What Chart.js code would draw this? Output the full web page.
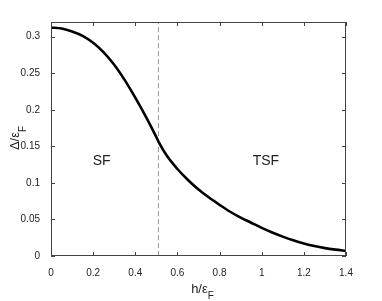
<!DOCTYPE html>
<html>
<head>
<meta charset="utf-8">
<script src="https://cdn.jsdelivr.net/npm/chart.js@4.4.0/dist/chart.umd.min.js"></script>
<style>
  html, body { margin: 0; padding: 0; background: #fff; }
  #wrap { width: 382px; height: 301px; }
</style>
</head>
<body>
<div id="wrap"><canvas id="gapChart" width="382" height="301"></canvas></div>
<script>
// data
const hValues   = [0, 0.05, 0.1, 0.15, 0.2, 0.25, 0.3, 0.35, 0.4, 0.45, 0.5, 0.51,
                   0.55, 0.6, 0.65, 0.7, 0.75, 0.8, 0.85, 0.9, 0.95, 1.0, 1.05, 1.1,
                   1.15, 1.2, 1.25, 1.3, 1.35, 1.4];
const gapValues = [0.3125, 0.311, 0.307, 0.301, 0.2915, 0.2785, 0.2615, 0.2405, 0.2165, 0.1905, 0.1625, 0.1565,
                   0.137, 0.119, 0.104, 0.091, 0.080, 0.070, 0.0605, 0.0525, 0.0455, 0.0385, 0.0322, 0.0265,
                   0.0215, 0.0172, 0.0136, 0.0108, 0.0087, 0.007];
const transitionH = 0.51;
const xTicks = [0, 0.2, 0.4, 0.6, 0.8, 1, 1.2, 1.4];
const yTicks = [0, 0.05, 0.1, 0.15, 0.2, 0.25, 0.3];
const phaseNames = ['SF', 'TSF'];
const phaseH = [0.24, 1.02];
const phaseGap = [0.13, 0.13];

const FONT = "'Liberation Sans', Arial, Helvetica, sans-serif";
const TEXT = '#222';
const FRAME = '#444';

function fmt(v) { return String(Math.round(v * 100) / 100); }

// frame, inward ticks, axis titles and phase labels (matlab look)
const matlabBox = {
    id: 'matlabBox',
    afterDraw(chart) {
        const { ctx, chartArea: a, scales } = chart;
        ctx.save();
        ctx.strokeStyle = FRAME;
        ctx.lineWidth = 1;
        ctx.strokeRect(a.left + 0.5, a.top + 0.5, a.right - a.left - 1, a.bottom - a.top - 1);

        ctx.beginPath();
        xTicks.forEach(v => {
            const x = Math.round(scales.x.getPixelForValue(v)) + 0.5;
            ctx.moveTo(x, a.bottom); ctx.lineTo(x, a.bottom - 4);
            ctx.moveTo(x, a.top); ctx.lineTo(x, a.top + 4);
        });
        yTicks.forEach(v => {
            const y = Math.round(scales.y.getPixelForValue(v)) + 0.5;
            ctx.moveTo(a.left, y); ctx.lineTo(a.left + 4, y);
            ctx.moveTo(a.right, y); ctx.lineTo(a.right - 4, y);
        });
        ctx.stroke();

        ctx.fillStyle = TEXT;
        ctx.textBaseline = 'alphabetic';
        ctx.textAlign = 'left';

        // x title h/εF
        ctx.font = '13px ' + FONT;
        const xMain = 'h/ε';
        const w1 = ctx.measureText(xMain).width;
        ctx.font = '10px ' + FONT;
        const w2 = ctx.measureText('F').width;
        let x0 = (a.left + a.right) / 2 + 4 - (w1 + w2) / 2;
        ctx.font = '13px ' + FONT;
        ctx.fillText(xMain, x0, 293);
        ctx.font = '10px ' + FONT;
        ctx.fillText('F', x0 + w1, 299);

        // y title Δ/εF
        ctx.save();
        ctx.translate(19, (a.top + a.bottom) / 2);
        ctx.rotate(-Math.PI / 2);
        ctx.font = '13px ' + FONT;
        const yMain = 'Δ/ε';
        const v1 = ctx.measureText(yMain).width;
        ctx.font = '10px ' + FONT;
        const v2 = ctx.measureText('F').width;
        const y0 = -(v1 + v2) / 2 + 1;
        ctx.font = '13px ' + FONT;
        ctx.fillText(yMain, y0, 0);
        ctx.font = '10px ' + FONT;
        ctx.fillText('F', y0 + v1, 7);
        ctx.restore();

        // phase labels
        ctx.font = '14px ' + FONT;
        ctx.textAlign = 'center';
        ctx.textBaseline = 'middle';
        phaseNames.forEach((name, i) => {
            ctx.fillText(name, scales.x.getPixelForValue(phaseH[i]), scales.y.getPixelForValue(phaseGap[i]));
        });
        ctx.restore();
    }
};

new Chart(document.getElementById('gapChart'), {
    type: 'line',
    data: {
        datasets: [
            {
                data: hValues.map((h, i) => ({ x: h, y: gapValues[i] })),
                borderColor: '#000',
                borderWidth: 2.6,
                pointRadius: 0,
                cubicInterpolationMode: 'monotone'
            },
            {
                data: [{ x: transitionH, y: 0 }, { x: transitionH, y: 0.32 }],
                borderColor: '#999',
                borderWidth: 1,
                borderDash: [5, 3],
                pointRadius: 0
            }
        ]
    },
    options: {
        responsive: false,
        animation: false,
        layout: { padding: { left: 0, top: 22, right: 36, bottom: 0 } },
        plugins: { legend: { display: false }, tooltip: { enabled: false } },
        scales: {
            x: {
                type: 'linear', min: 0, max: 1.4,
                afterBuildTicks: s => { s.ticks = xTicks.map(v => ({ value: v })); },
                afterFit: s => { s.height = 45; },
                grid: { display: false },
                border: { display: false },
                ticks: { font: { family: FONT, size: 10 }, color: TEXT, padding: 3, maxRotation: 0, autoSkip: false, callback: fmt }
            },
            y: {
                type: 'linear', min: 0, max: 0.32,
                afterBuildTicks: s => { s.ticks = yTicks.map(v => ({ value: v })); },
                afterFit: s => { s.width = 51; },
                grid: { display: false },
                border: { display: false },
                ticks: { font: { family: FONT, size: 10 }, color: TEXT, padding: 3, autoSkip: false, callback: fmt }
            }
        }
    },
    plugins: [matlabBox]
});
</script>
</body>
</html>
